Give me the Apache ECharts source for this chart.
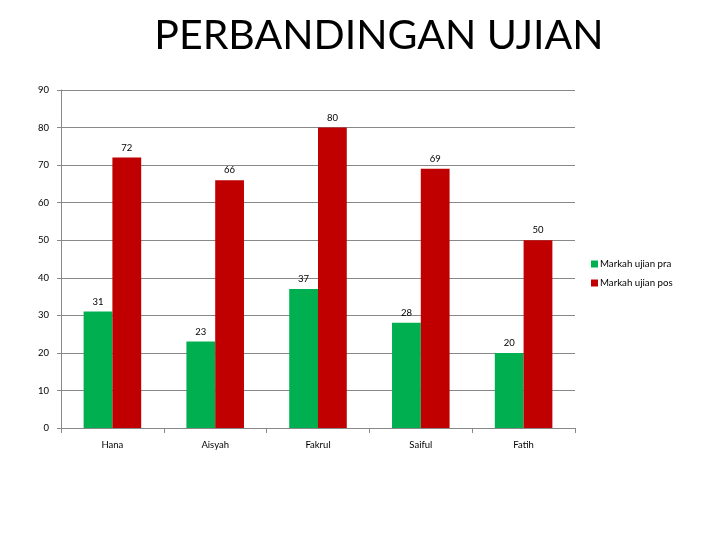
<!DOCTYPE html>
<html>
<head>
<meta charset="utf-8">
<script src="https://cdn.jsdelivr.net/npm/echarts@6/dist/echarts.min.js"></script>
<style>
  html, body { margin: 0; padding: 0; background: #fff; }
  #main { width: 728px; height: 546px; }
</style>
</head>
<body>
<div id="main"></div>
<script>
var names = ['Hana', 'Aisyah', 'Fakrul', 'Saiful', 'Fatih'];
var pra = [31, 23, 37, 28, 20];
var pos = [72, 66, 80, 69, 50];
var seriesNames = ['Markah ujian pra', 'Markah ujian pos'];

var myChart = echarts.init(document.getElementById('main'));

var labelStyle = {
  show: true,
  position: 'top',
  distance: 5,
  color: '#000',
  fontSize: 9.5,
  fontFamily: 'Lato'
};

var option = {
  animation: false,
  title: {
    text: 'PERBANDINGAN UJIAN',
    left: 374,
    top: 10,
    textAlign: 'center',
    textStyle: {
      fontFamily: 'Lato',
      fontWeight: 'normal',
      fontSize: 41,
      color: '#000'
    }
  },
  legend: {
    orient: 'vertical',
    left: 586,
    top: 254,
    itemWidth: 7,
    itemHeight: 7,
    itemGap: 9,
    icon: 'rect',
    textStyle: { fontFamily: 'Lato', fontSize: 9.7, color: '#000', padding: [0, 0, 0, -3] },
    data: seriesNames
  },
  grid: {
    left: 61,
    right: 153,
    top: 90,
    bottom: 118
  },
  xAxis: {
    type: 'category',
    data: names,
    axisLine: { lineStyle: { color: '#888' } },
    axisTick: { show: true, length: 5, inside: false, lineStyle: { color: '#888' } },
    axisLabel: { color: '#000', fontSize: 9.5, fontFamily: 'Lato', margin: 12 }
  },
  yAxis: {
    type: 'value',
    min: 0,
    max: 90,
    interval: 10,
    axisLine: { show: true, lineStyle: { color: '#888' } },
    axisTick: { show: true, length: 4, lineStyle: { color: '#888' } },
    axisLabel: { color: '#000', fontSize: 9.5, fontFamily: 'Lato', margin: 12 },
    splitLine: { lineStyle: { color: '#888' } }
  },
  series: [
    {
      name: seriesNames[0],
      type: 'bar',
      data: pra,
      barGap: '0%',
      barCategoryGap: '44%',
      itemStyle: { color: '#00B050' },
      label: labelStyle
    },
    {
      name: seriesNames[1],
      type: 'bar',
      data: pos,
      itemStyle: { color: '#C00000' },
      label: labelStyle
    }
  ]
};

myChart.setOption(option);
</script>
</body>
</html>
